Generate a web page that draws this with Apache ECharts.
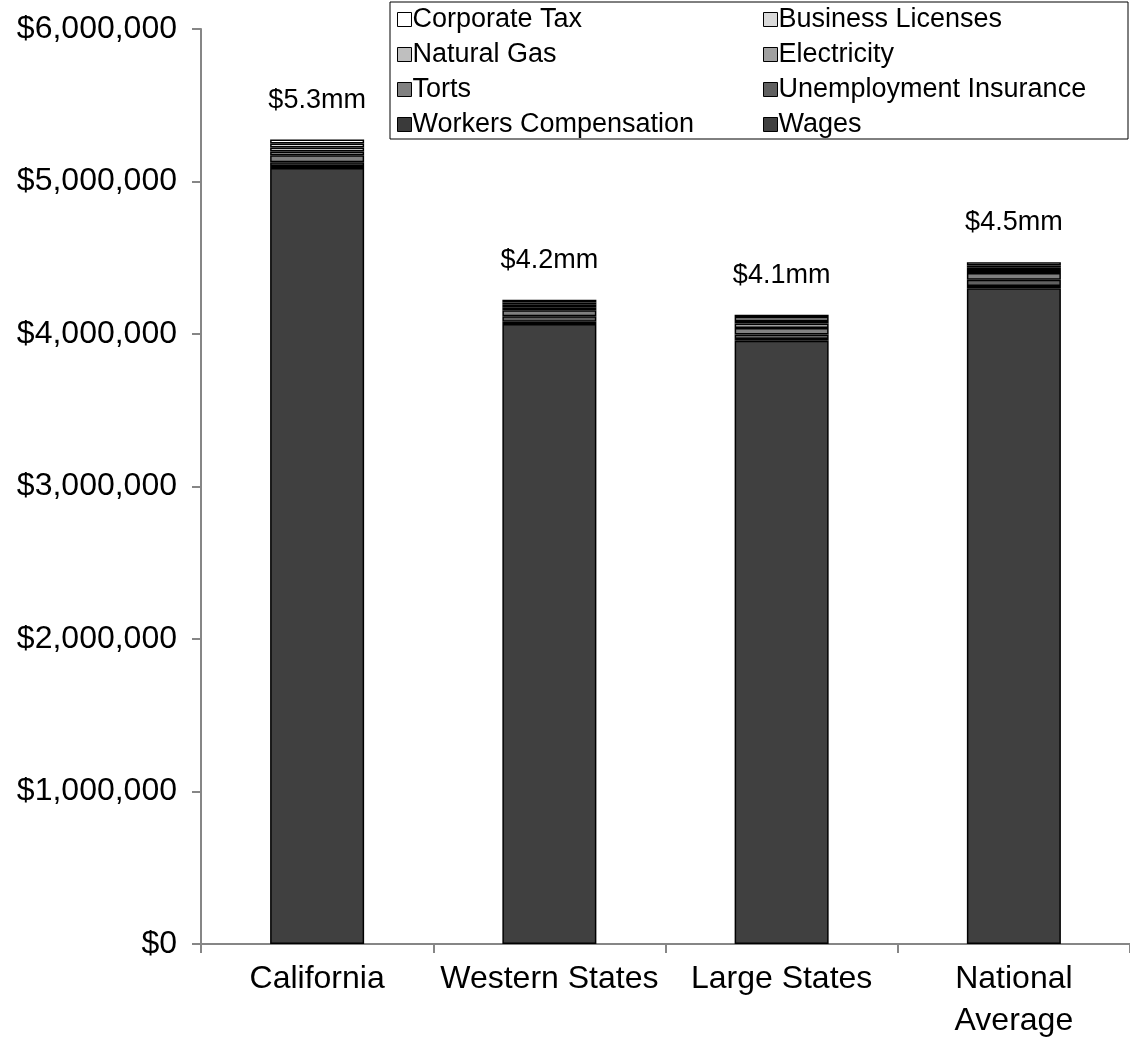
<!DOCTYPE html>
<html>
<head>
<meta charset="utf-8">
<script src="https://cdn.jsdelivr.net/npm/echarts@6/dist/echarts.min.js"></script>
<style>
  html, body { margin:0; padding:0; background:#fff; overflow:hidden; }
  #chart { width:1130px; height:1042px; }
</style>
</head>
<body>
<div id="chart"></div>
<script>
// 数据
const categories = ['California', 'Western States', 'Large States', 'National\nAverage'];
const totalLabels = ['$5.3mm', '$4.2mm', '$4.1mm', '$4.5mm'];

const wages = [5088000, 4066000, 3956000, 4300000];
const workersComp = [13000, 15000, 12000, 15000];
const unemployment = [26000, 35000, 28000, 40000];
const torts = [45000, 40000, 43000, 45000];
const electricity = [25000, 20000, 30000, 20000];
const naturalGas = [26000, 15000, 17000, 15000];
const businessLicenses = [26000, 15000, 26000, 15000];
const corporateTax = [26000, 18000, 14000, 20000];

// 从底到顶
const seriesDefs = [
  { name: 'Wages', data: wages, color: '#404040' },
  { name: 'Workers Compensation', data: workersComp, color: '#3a3a3a' },
  { name: 'Unemployment Insurance', data: unemployment, color: '#606060' },
  { name: 'Torts', data: torts, color: '#808080' },
  { name: 'Electricity', data: electricity, color: '#a0a0a0' },
  { name: 'Natural Gas', data: naturalGas, color: '#bfbfbf' },
  { name: 'Business Licenses', data: businessLicenses, color: '#d9d9d9' },
  { name: 'Corporate Tax', data: corporateTax, color: '#ffffff' }
];

const font = '"Liberation Sans", Arial, sans-serif';

const series = seriesDefs.map((s, i) => {
  const isTop = i === seriesDefs.length - 1;
  return {
    name: s.name,
    type: 'bar',
    stack: 'total',
    barWidth: 94,
    data: s.data,
    itemStyle: { color: s.color, borderColor: '#000', borderWidth: 1.5 },
    label: isTop ? {
      show: true,
      position: 'top',
      distance: 26,
      color: '#000',
      fontSize: 27,
      fontFamily: font,
      formatter: p => totalLabels[p.dataIndex]
    } : { show: false },
    emphasis: { disabled: true }
  };
});

const legendCommon = {
  orient: 'vertical',
  top: 1,
  itemWidth: 14,
  itemHeight: 14,
  itemGap: 8,
  icon: 'rect',
  selectedMode: false,
  textStyle: { color: '#000', fontSize: 27, lineHeight: 27, fontFamily: font, padding: [0, 0, 0, -4] },
  itemStyle: { borderColor: '#000', borderWidth: 1 }
};

const chart = echarts.init(document.getElementById('chart'), null, { renderer: 'canvas' });
chart.setOption({
  animation: false,
  grid: { left: 201, top: 29, width: 940, bottom: 91 },
  legend: [
    Object.assign({}, legendCommon, { left: 392, data: ['Corporate Tax', 'Natural Gas', 'Torts', 'Workers Compensation'] }),
    Object.assign({}, legendCommon, { left: 758, data: ['Business Licenses', 'Electricity', 'Unemployment Insurance', 'Wages'] })
  ],
  graphic: [{
    type: 'rect',
    shape: { x: 390, y: 2, width: 738, height: 137 },
    style: { fill: 'none', stroke: '#000', lineWidth: 1 },
    z: 10
  }],
  xAxis: {
    type: 'category',
    data: categories,
    axisLine: { lineStyle: { color: '#868686', width: 2 } },
    axisTick: { show: true, length: 9, lineStyle: { color: '#868686', width: 2 } },
    axisLabel: { interval: 0, color: '#000', fontSize: 32, fontFamily: font, margin: 14, lineHeight: 42 }
  },
  yAxis: {
    type: 'value',
    min: 0,
    max: 6000000,
    interval: 1000000,
    splitLine: { show: false },
    axisLine: { show: true, lineStyle: { color: '#868686', width: 2 } },
    axisTick: { show: true, length: 9, lineStyle: { color: '#868686', width: 2 } },
    axisLabel: {
      color: '#000', fontSize: 32, fontFamily: font, margin: 24,
      formatter: v => '$' + v.toLocaleString('en-US')
    }
  },
  series: series
});
</script>
</body>
</html>
